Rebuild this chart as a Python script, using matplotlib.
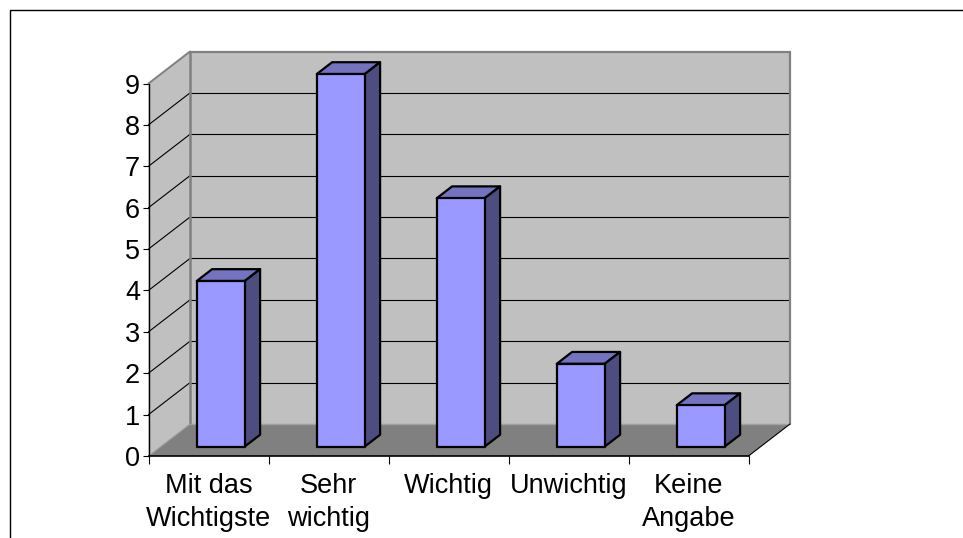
import matplotlib
matplotlib.use('Agg')
import matplotlib.pyplot as plt
from matplotlib.lines import Line2D
from matplotlib.patches import Polygon

categories = ['Mit das\nWichtigste', 'Sehr\nwichtig', 'Wichtig', 'Unwichtig', 'Keine\nAngabe']
values = [4, 9, 6, 2, 1]
y_ticks = list(range(10))

# how far the back of the box is shifted from the front plane, in data units
DEPTH_X = 41.5 / 120
DEPTH_Y = 32 / 41.4
BAR_WIDTH = 0.4
BAR_FRONT = 0.295
BAR_BACK = 0.665

WALL = '#C0C0C0'
FLOOR = '#808080'
EDGE = '#808080'

plt.rcParams['font.family'] = ['Liberation Sans', 'DejaVu Sans']

fig = plt.figure(figsize=(9.63, 5.38), dpi=100)
ax = fig.add_axes([148.5 / 963, 1 - 456 / 538, 600 / 963, 372.5 / 538])
ax.set_xlim(0, len(categories))
ax.set_ylim(0, 9)
ax.patch.set_visible(False)


def proj(x, y, d):
    return (x + d * DEPTH_X, y + d * DEPTH_Y)


def poly(points, color, edge='none', lw=0.0, z=1):
    ax.add_patch(Polygon(points, closed=True, facecolor=color, edgecolor=edge,
                         linewidth=lw, zorder=z, clip_on=False, joinstyle='round'))


def line(p0, p1, color='black', lw=1.0, z=2):
    ax.plot([p0[0], p1[0]], [p0[1], p1[1]], color=color, linewidth=lw, zorder=z,
            clip_on=False, solid_capstyle='round')


n = len(categories)

# walls and floor
poly([proj(0, 0, 1), proj(n, 0, 1), proj(n, 9, 1), proj(0, 9, 1)], WALL)
poly([proj(0, 0, 0), proj(0, 0, 1), proj(0, 9, 1), proj(0, 9, 0)], WALL)
poly([proj(0, 0, 0), proj(n, 0, 0), proj(n, 0, 1), proj(0, 0, 1)], FLOOR)

# gridlines on back and side wall
for v in y_ticks[1:-1]:
    line(proj(0, v, 0), proj(0, v, 1), lw=0.8)
    line(proj(0, v, 1), proj(n, v, 1), lw=0.8)

# wall borders
line(proj(0, 9, 0), proj(0, 9, 1), EDGE, 1.4, 3)
line(proj(0, 9, 1), proj(n, 9, 1), EDGE, 1.6, 3)
line(proj(0, 0, 1), proj(0, 9, 1), EDGE, 1.8, 3)
line(proj(n, 0, 1), proj(n, 9, 1), EDGE, 1.6, 3)
line(proj(0, 0, 1), proj(n, 0, 1), '#A0A0A0', 1.0, 3)
line(proj(0, 0, 0), proj(0, 0, 1), '#A0A0A0', 0.8, 3)
line(proj(n, 0, 0), proj(n, 0, 1), 'black', 0.8, 3)

# bars
for i, v in enumerate(values):
    x0 = i + 0.5 - BAR_WIDTH / 2
    x1 = i + 0.5 + BAR_WIDTH / 2
    poly([proj(x0, v, BAR_FRONT), proj(x1, v, BAR_FRONT), proj(x1, v, BAR_BACK), proj(x0, v, BAR_BACK)],
         '#7373BF', 'black', 1.6, 5)
    poly([proj(x1, 0, BAR_FRONT), proj(x1, 0, BAR_BACK), proj(x1, v, BAR_BACK), proj(x1, v, BAR_FRONT)],
         '#4D4D80', 'black', 1.6, 5)
    poly([proj(x0, 0, BAR_FRONT), proj(x1, 0, BAR_FRONT), proj(x1, v, BAR_FRONT), proj(x0, v, BAR_FRONT)],
         '#9999FF', 'black', 1.6, 6)

ax.spines['top'].set_visible(False)
ax.spines['right'].set_visible(False)
ax.spines['left'].set_linewidth(1.0)
ax.spines['bottom'].set_linewidth(1.2)
ax.spines['left'].set_zorder(4)
ax.spines['bottom'].set_zorder(4)

ax.set_yticks(y_ticks)
ax.set_xticks(range(n + 1))
ax.set_xticklabels([])
ax.set_xticks([i + 0.5 for i in range(n)], labels=categories, minor=True)
ax.tick_params(axis='y', length=4, width=0.8, labelsize=19.5, pad=2)
ax.tick_params(axis='x', which='major', length=6, width=0.8)
ax.tick_params(axis='x', which='minor', length=0, labelsize=19.5, pad=12)
for t in ax.get_xticklabels(minor=True):
    t.set_linespacing(1.36)

# outer frame, only left and top are inside the crop
fig.add_artist(Line2D([10 / 963, 10 / 963, 1], [0, 1 - 10 / 538, 1 - 10 / 538],
                      color='black', linewidth=1.0))

fig.savefig('out.png', dpi=100)
